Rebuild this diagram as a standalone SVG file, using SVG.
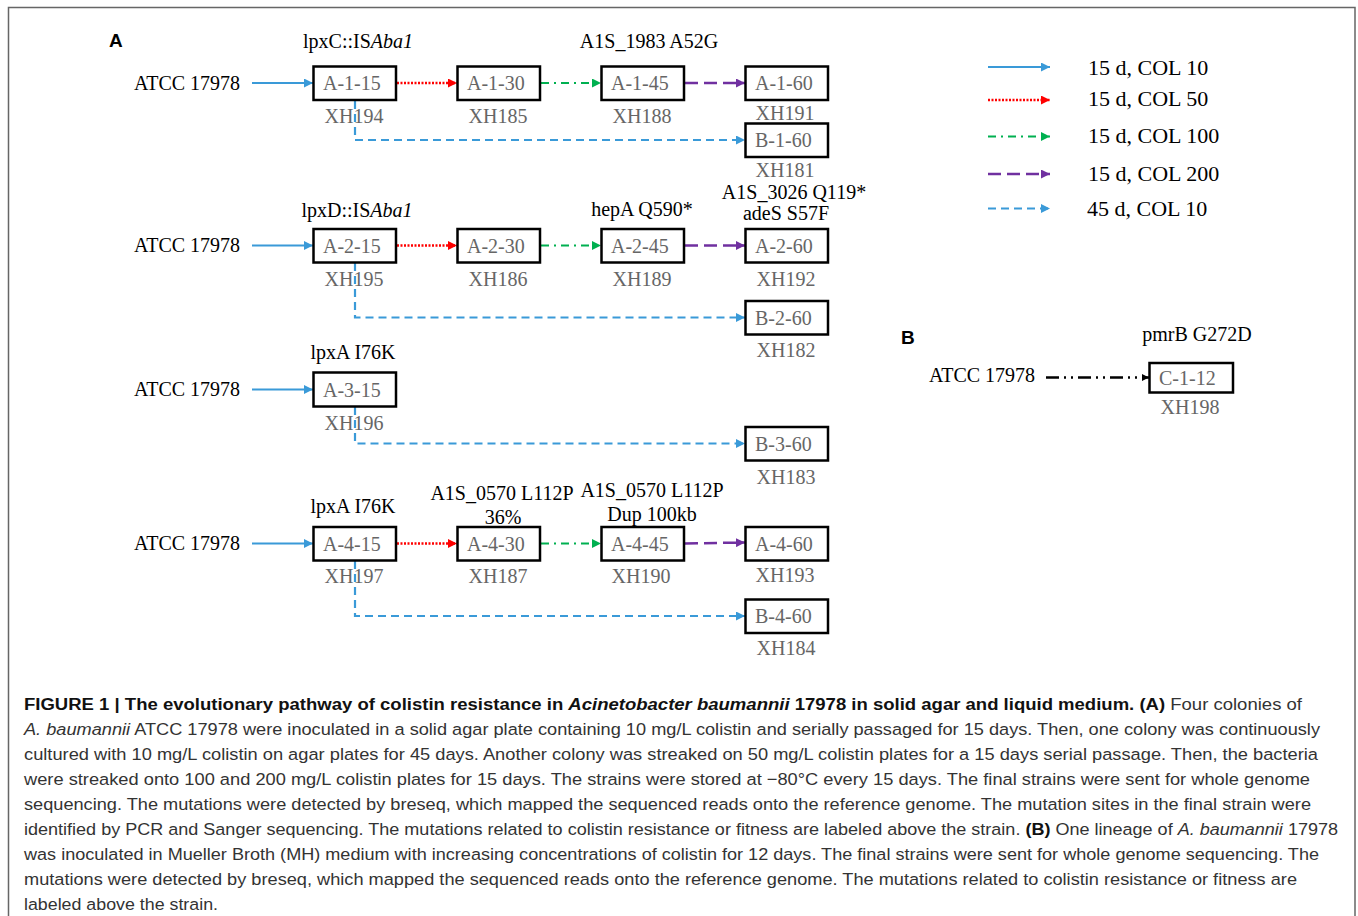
<svg xmlns="http://www.w3.org/2000/svg" width="1358" height="916" viewBox="0 0 1358 916">
<style>
.t{font-family:"Liberation Serif","Times New Roman",serif;font-size:20px;fill:#000}
.g{font-family:"Liberation Serif","Times New Roman",serif;font-size:20px;fill:#666}
.m{text-anchor:middle}
.box{fill:#fff;stroke:#000;stroke-width:2.5}
.lg{font-family:"Liberation Serif","Times New Roman",serif;font-size:22px;fill:#000}
.pl{font-family:"Liberation Sans",Arial,sans-serif;font-size:19px;font-weight:bold;fill:#000}
.cap{font-family:"Liberation Sans",Arial,sans-serif;font-size:16.8px;fill:#333}
.b{font-weight:bold;fill:#111}
.i{font-style:italic}
.c{fill:none;stroke-width:2.2}
.blue{stroke:#3a9ad8}
.red{stroke:#ff0000;stroke-dasharray:2 1.5;stroke-width:2.5}
.green{stroke:#00b050;stroke-dasharray:8 5 2 5}
.purple{stroke:#7030a0;stroke-dasharray:13 6;stroke-width:2.5}
.dblue{stroke:#3a9ad8;stroke-dasharray:8 5}
.blk{stroke:#000;stroke-dasharray:13 5 2 5 2 5;stroke-width:2.5}
</style>
<defs>
<marker id="aBlue" viewBox="0 0 10 10" refX="10" refY="5" markerWidth="9" markerHeight="9" markerUnits="userSpaceOnUse" orient="auto"><path d="M0,0 L10,5 L0,10 z" fill="#3a9ad8"/></marker>
<marker id="aRed" viewBox="0 0 10 10" refX="10" refY="5" markerWidth="9" markerHeight="9" markerUnits="userSpaceOnUse" orient="auto"><path d="M0,0 L10,5 L0,10 z" fill="#ff0000"/></marker>
<marker id="aGreen" viewBox="0 0 10 10" refX="10" refY="5" markerWidth="9" markerHeight="9" markerUnits="userSpaceOnUse" orient="auto"><path d="M0,0 L10,5 L0,10 z" fill="#00b050"/></marker>
<marker id="aPurple" viewBox="0 0 10 10" refX="10" refY="5" markerWidth="9" markerHeight="9" markerUnits="userSpaceOnUse" orient="auto"><path d="M0,0 L10,5 L0,10 z" fill="#7030a0"/></marker>
<marker id="aBlack" viewBox="0 0 10 10" refX="10" refY="5" markerWidth="7" markerHeight="7" markerUnits="userSpaceOnUse" orient="auto"><path d="M0,0 L10,5 L0,10 z" fill="#000"/></marker>
</defs>
<rect x="0" y="0" width="1358" height="916" fill="#fff"/>
<path d="M8.5,930 L8.5,7.5 L1355,7.5 L1355,930" fill="none" stroke="#666" stroke-width="1.5"/>

<text class="pl" x="109" y="47">A</text>
<text class="pl" x="901" y="344">B</text>

<!-- source labels -->
<g id="sources">
<text class="t" x="134" y="90" font-size="19">ATCC 17978</text>
<text class="t" x="134" y="252" font-size="19">ATCC 17978</text>
<text class="t" x="134" y="396" font-size="19">ATCC 17978</text>
<text class="t" x="134" y="550" font-size="19">ATCC 17978</text>
<text class="t" x="929" y="382" font-size="19">ATCC 17978</text>
</g>

<!-- mutation labels -->
<g id="mutations">
<text class="t m" x="358" y="48">lpxC::IS<tspan class="i">Aba1</tspan></text>
<text class="t m" x="649" y="48">A1S_1983 A52G</text>
<text class="t m" x="357" y="217">lpxD::IS<tspan class="i">Aba1</tspan></text>
<text class="t m" x="642" y="216">hepA Q590*</text>
<text class="t m" x="794" y="199">A1S_3026 Q119*</text>
<text class="t m" x="786" y="220">adeS S57F</text>
<text class="t m" x="353" y="359">lpxA I76K</text>
<text class="t m" x="353" y="513">lpxA I76K</text>
<text class="t m" x="502" y="500">A1S_0570 L112P</text>
<text class="t m" x="503" y="524">36%</text>
<text class="t m" x="652" y="497">A1S_0570 L112P</text>
<text class="t m" x="652" y="521">Dup 100kb</text>
<text class="t m" x="1197" y="341">pmrB G272D</text>
</g>

<!-- connectors -->
<g id="connectors">
<line class="c blue" x1="252" y1="83" x2="313" y2="83" marker-end="url(#aBlue)"/>
<line class="c red" x1="397" y1="83" x2="457" y2="83" marker-end="url(#aRed)"/>
<line class="c green" x1="541" y1="83" x2="601" y2="83" marker-end="url(#aGreen)"/>
<line class="c purple" x1="685" y1="83" x2="745" y2="83" marker-end="url(#aPurple)"/>
<path class="c dblue" d="M355,101 L355,140 L745,140" marker-end="url(#aBlue)"/>

<line class="c blue" x1="252" y1="245.5" x2="313" y2="245.5" marker-end="url(#aBlue)"/>
<line class="c red" x1="397" y1="245.5" x2="457" y2="245.5" marker-end="url(#aRed)"/>
<line class="c green" x1="541" y1="245.5" x2="601" y2="245.5" marker-end="url(#aGreen)"/>
<line class="c purple" x1="685" y1="245.5" x2="745" y2="245.5" marker-end="url(#aPurple)"/>
<path class="c dblue" d="M355,263 L355,317.5 L745,317.5" marker-end="url(#aBlue)"/>

<line class="c blue" x1="252" y1="389.5" x2="313" y2="389.5" marker-end="url(#aBlue)"/>
<path class="c dblue" d="M355,407 L355,443.5 L745,443.5" marker-end="url(#aBlue)"/>

<line class="c blue" x1="252" y1="543.5" x2="313" y2="543.5" marker-end="url(#aBlue)"/>
<line class="c red" x1="397" y1="543.5" x2="457" y2="543.5" marker-end="url(#aRed)"/>
<line class="c green" x1="541" y1="543.5" x2="601" y2="543.5" marker-end="url(#aGreen)"/>
<line class="c purple" x1="685" y1="543.5" x2="745" y2="542.5" marker-end="url(#aPurple)"/>
<path class="c dblue" d="M355,561 L355,616 L745,616" marker-end="url(#aBlue)"/>

<line class="c blk" x1="1046" y1="377.5" x2="1149" y2="377.5" marker-end="url(#aBlack)"/>
</g>

<!-- nodes row 1 -->
<g id="A-1-15"><rect class="box" x="313.5" y="66.5" width="82.5" height="33.5"/><text class="g" x="323" y="90">A-1-15</text><text class="g m" x="354" y="123">XH194</text></g>
<g id="A-1-30"><rect class="box" x="457.5" y="66.5" width="82.5" height="33.5"/><text class="g" x="467" y="90">A-1-30</text><text class="g m" x="498" y="123">XH185</text></g>
<g id="A-1-45"><rect class="box" x="601.5" y="66.5" width="82.5" height="33.5"/><text class="g" x="611" y="90">A-1-45</text><text class="g m" x="642" y="123">XH188</text></g>
<g id="A-1-60"><rect class="box" x="745.5" y="66.5" width="82.5" height="33.5"/><text class="g" x="755" y="90">A-1-60</text><text class="g m" x="785" y="120">XH191</text></g>
<g id="B-1-60"><rect class="box" x="745.5" y="123.5" width="82.5" height="33.5"/><text class="g" x="755" y="147">B-1-60</text><text class="g m" x="785" y="177">XH181</text></g>

<!-- row 2 -->
<g id="A-2-15"><rect class="box" x="313.5" y="229" width="82.5" height="33.5"/><text class="g" x="323" y="252.5">A-2-15</text><text class="g m" x="354" y="285.5">XH195</text></g>
<g id="A-2-30"><rect class="box" x="457.5" y="229" width="82.5" height="33.5"/><text class="g" x="467" y="252.5">A-2-30</text><text class="g m" x="498" y="285.5">XH186</text></g>
<g id="A-2-45"><rect class="box" x="601.5" y="229" width="82.5" height="33.5"/><text class="g" x="611" y="252.5">A-2-45</text><text class="g m" x="642" y="285.5">XH189</text></g>
<g id="A-2-60"><rect class="box" x="745.5" y="229" width="82.5" height="33.5"/><text class="g" x="755" y="252.5">A-2-60</text><text class="g m" x="786" y="285.5">XH192</text></g>
<g id="B-2-60"><rect class="box" x="745.5" y="301" width="82.5" height="33.5"/><text class="g" x="755" y="324.5">B-2-60</text><text class="g m" x="786" y="357">XH182</text></g>

<!-- row 3 -->
<g id="A-3-15"><rect class="box" x="313.5" y="372.5" width="82.5" height="34"/><text class="g" x="323" y="396.5">A-3-15</text><text class="g m" x="354" y="430">XH196</text></g>
<g id="B-3-60"><rect class="box" x="745.5" y="427" width="82.5" height="33.5"/><text class="g" x="755" y="450.5">B-3-60</text><text class="g m" x="786" y="484">XH183</text></g>

<!-- row 4 -->
<g id="A-4-15"><rect class="box" x="313.5" y="527" width="82.5" height="33.5"/><text class="g" x="323" y="550.5">A-4-15</text><text class="g m" x="354" y="583">XH197</text></g>
<g id="A-4-30"><rect class="box" x="457.5" y="527" width="82.5" height="33.5"/><text class="g" x="467" y="550.5">A-4-30</text><text class="g m" x="498" y="583">XH187</text></g>
<g id="A-4-45"><rect class="box" x="601.5" y="527" width="82.5" height="33.5"/><text class="g" x="611" y="550.5">A-4-45</text><text class="g m" x="641" y="583">XH190</text></g>
<g id="A-4-60"><rect class="box" x="745.5" y="527" width="82.5" height="33.5"/><text class="g" x="755" y="550.5">A-4-60</text><text class="g m" x="785" y="582">XH193</text></g>
<g id="B-4-60"><rect class="box" x="745.5" y="599.5" width="82.5" height="33.5"/><text class="g" x="755" y="623">B-4-60</text><text class="g m" x="786" y="655">XH184</text></g>

<!-- panel B node -->
<g id="C-1-12"><rect class="box" x="1149.5" y="363" width="83.5" height="29.5"/><text class="g" x="1159" y="384.5">C-1-12</text><text class="g m" x="1190" y="414">XH198</text></g>

<!-- legend -->
<g id="legend">
<line class="c blue" x1="988" y1="67" x2="1050" y2="67" marker-end="url(#aBlue)"/>
<line class="c red" x1="988" y1="100" x2="1050" y2="100" marker-end="url(#aRed)"/>
<line class="c green" x1="988" y1="136.5" x2="1050" y2="136.5" marker-end="url(#aGreen)"/>
<line class="c purple" x1="988" y1="174" x2="1050" y2="174" marker-end="url(#aPurple)"/>
<line class="c dblue" x1="988" y1="208.5" x2="1050" y2="208.5" marker-end="url(#aBlue)"/>
<text class="lg" x="1088" y="74.5">15 d, COL 10</text>
<text class="lg" x="1088" y="106">15 d, COL 50</text>
<text class="lg" x="1088" y="143">15 d, COL 100</text>
<text class="lg" x="1088" y="180.5">15 d, COL 200</text>
<text class="lg" x="1087" y="215.5">45 d, COL 10</text>
</g>

<!-- caption -->
<g id="caption">
<text class="cap" x="24" y="710" textLength="1278" lengthAdjust="spacingAndGlyphs"><tspan class="b">FIGURE 1 | The evolutionary pathway of colistin resistance in </tspan><tspan class="b i">Acinetobacter baumannii</tspan><tspan class="b"> 17978 in solid agar and liquid medium. (A)</tspan> Four colonies of</text>
<text class="cap" x="24" y="735" textLength="1296" lengthAdjust="spacingAndGlyphs"><tspan class="i">A. baumannii</tspan> ATCC 17978 were inoculated in a solid agar plate containing 10 mg/L colistin and serially passaged for 15 days. Then, one colony was continuously</text>
<text class="cap" x="24" y="760" textLength="1294" lengthAdjust="spacingAndGlyphs">cultured with 10 mg/L colistin on agar plates for 45 days. Another colony was streaked on 50 mg/L colistin plates for a 15 days serial passage. Then, the bacteria</text>
<text class="cap" x="24" y="785" textLength="1286" lengthAdjust="spacingAndGlyphs">were streaked onto 100 and 200 mg/L colistin plates for 15 days. The strains were stored at −80°C every 15 days. The final strains were sent for whole genome</text>
<text class="cap" x="24" y="810" textLength="1287" lengthAdjust="spacingAndGlyphs">sequencing. The mutations were detected by breseq, which mapped the sequenced reads onto the reference genome. The mutation sites in the final strain were</text>
<text class="cap" x="24" y="835" textLength="1314" lengthAdjust="spacingAndGlyphs">identified by PCR and Sanger sequencing. The mutations related to colistin resistance or fitness are labeled above the strain. <tspan class="b">(B)</tspan> One lineage of <tspan class="i">A. baumannii</tspan> 17978</text>
<text class="cap" x="24" y="860" textLength="1295" lengthAdjust="spacingAndGlyphs">was inoculated in Mueller Broth (MH) medium with increasing concentrations of colistin for 12 days. The final strains were sent for whole genome sequencing. The</text>
<text class="cap" x="24" y="885" textLength="1273" lengthAdjust="spacingAndGlyphs">mutations were detected by breseq, which mapped the sequenced reads onto the reference genome. The mutations related to colistin resistance or fitness are</text>
<text class="cap" x="24" y="910" textLength="194" lengthAdjust="spacingAndGlyphs">labeled above the strain.</text>
</g>
</svg>
